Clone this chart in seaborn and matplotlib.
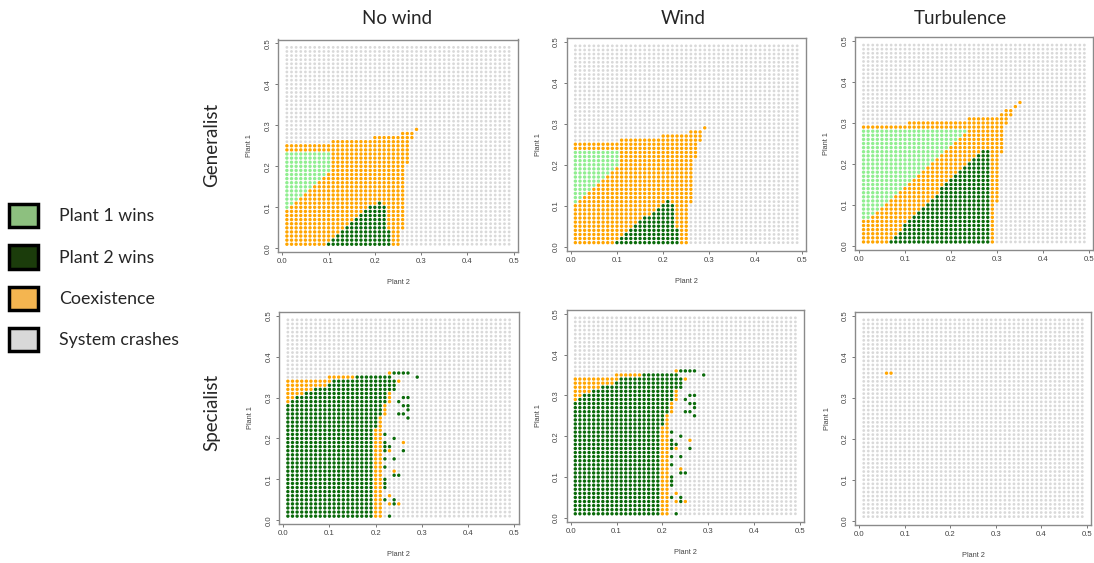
import pandas as pd
import matplotlib
matplotlib.use("Agg")
import matplotlib.pyplot as plt
from matplotlib.patches import Patch
import seaborn as sns

# Outcome grid: Plant 2 on x, Plant 1 on y, both 0.01 .. 0.49 in steps of 0.01.
# Every panel is a list of rows (Plant 1 = 0.01, 0.02, ...), each row a run-length
# string read off the picture starting at Plant 2 = 0.01:
# L = Plant 1 wins, D = Plant 2 wins, C = Coexistence, X = System crashes.
# Rows (and the tail of a row) that are not listed are all "System crashes".
N_STEPS = 49

generalist_nowind = [
    "C9 D14 C2", "C10 D13 C2", "C11 D12 C2", "C12 D11 C2",
    "C13 D9 C4", "C14 D8 C4", "C15 D7 C4", "C16 D6 C4", "C17 D5 C4",
    "L1 C17 D4 C4", "L2 C18 D1 C5",
    "L3 C23", "L4 C22", "L5 C21", "L6 C20", "L7 C19", "L8 C18", "L9 C17",
    "L10 C16", "L10 C16", "L10 C17", "L10 C17", "L10 C17",
    "C27", "C27", "X10 C17", "X19 C9", "X25 C3", "X28 C1",
]

generalist_wind = [
    "C9 D14 C2", "C10 D13 C2", "C11 D12 C2", "C12 D11 C2",
    "C13 D9 C3", "C14 D8 C3", "C15 D7 C3", "C17 D5 C3", "C18 D4 C3",
    "C19 D3 C3", "L1 C19 D1 C5",
    "L2 C24", "L3 C23", "L4 C22", "L5 C21", "L6 C20", "L7 C19", "L8 C18",
    "L9 C17", "L10 C16", "L10 C16", "L10 C17", "L10 C17",
    "C27", "C27", "X10 C18", "X19 C9", "X25 C3", "X28 C1",
]

generalist_turbulence = [
    "C6 D22 C1", "C7 D21 C1", "C8 D20 C1", "C9 D19 C1", "C9 D19 C1",
    "C10 D18 C1", "L2 C9 D17 C1", "L3 C9 D16 C1", "L4 C9 D15 C1",
    "L5 C9 D14 C1", "L6 C9 D13 C2", "L7 C9 D12 C2", "L8 C9 D11 C2",
    "L9 C8 D11 C2", "L10 C8 D10 C2", "L11 C8 D9 C2", "L12 C8 D8 C2",
    "L13 C8 D7 C2", "L14 C8 D6 C2", "L15 C8 D5 C2", "L16 C8 D4 C2",
    "L17 C8 D3 C2", "L18 C8 D2 C3", "L19 C12", "L20 C11", "L21 C10",
    "L22 C9", "L23 C8", "C31", "X10 C22", "X23 C9", "X30 C3", "X31 C2",
    "X33 C1", "X34 C1",
]

specialist_nowind = [
    "D19 C2 X1 D1", "D19 C2", "D19 C2", "D19 C2 X1 C1 D1 C1",
    "D19 C2 D1 X1 D1", "D19 C2 X1 C1", "D19 C2", "D19 C2 D1", "D19 C2 D1",
    "D19 C2 D1", "D19 C2 X2 D2", "D19 C2 X2 C1", "D19 C2 D1", "D19 C2",
    "D19 C2 D1 X1 D1", "D19 C2", "D19 C2 D1 C1 X2 D1", "D19 C2 D2",
    "D19 C2 D1 X3 C1", "D19 C2 X2 D1", "D19 C2 D1", "D19 C2",
    "D20 C1", "D20 C1", "D20 C1 X5 D1", "D21 C1 X2 D2", "D21 C1 X4 D1",
    "D21 C1 X3 D2", "C1 D21 C1 X1 D1", "C2 D20 C1 X2 D2", "C4 D18 C1",
    "C6 D18", "C9 D15", "C10 D14 C1", "X9 C6 D8 X5 D1", "X22 C1 D4",
]

# the windy specialist panel reads the same as the still-air one
specialist_wind = list(specialist_nowind)

specialist_turbulence = [""] * 35 + ["X5 C2"]

col_titles = ["No wind", "Wind", "Turbulence"]
row_titles = ["Generalist", "Specialist"]
panels = [generalist_nowind, generalist_wind, generalist_turbulence,
          specialist_nowind, specialist_wind, specialist_turbulence]

outcome_names = {"L": "Plant 1 wins", "D": "Plant 2 wins",
                 "C": "Coexistence", "X": "System crashes"}
dot_colors = {"Plant 1 wins": "#90EE90", "Plant 2 wins": "#0A6A0A",
              "Coexistence": "#FFA500", "System crashes": "#D9D9D9"}
dot_sizes = {"Plant 1 wins": 6, "Plant 2 wins": 6,
             "Coexistence": 6, "System crashes": 4}
legend_colors = {"Plant 1 wins": "#8DC07F", "Plant 2 wins": "#1B3C0B",
                 "Coexistence": "#F4B550", "System crashes": "#D8D8D8"}

# axes boxes in pixels: left, top, width, height
boxes = [(278, 39.5, 240, 212.6), (566.5, 38, 239.5, 212.5), (854.7, 37.2, 238.5, 212.6),
         (279, 312, 239.5, 212), (566.5, 310, 237.7, 211.6), (855, 312, 236, 212.5)]


def expand(rows):
    recs = []
    for r in range(1, N_STEPS + 1):
        codes = []
        if r <= len(rows):
            for tok in rows[r - 1].split():
                codes += [tok[0]] * int(tok[1:])
        codes += ["X"] * (N_STEPS - len(codes))
        for c, code in enumerate(codes, start=1):
            recs.append((c / 100, r / 100, outcome_names[code]))
    return pd.DataFrame(recs, columns=["Plant 2", "Plant 1", "outcome"])


sns.set_style("white")
plt.rcParams["font.family"] = ["Liberation Sans", "DejaVu Sans"]
heading_font = ["Lato", "DejaVu Sans"]

W, H = 1094, 563
fig = plt.figure(figsize=(W / 100, H / 100), dpi=100)

pad = 0.04 * (0.49 - 0.01)
ticks = [0.0, 0.1, 0.2, 0.3, 0.4, 0.5]
for i, (rows, (left, top, w, h)) in enumerate(zip(panels, boxes)):
    ax = fig.add_axes([left / W, 1 - (top + h) / H, w / W, h / H])
    df = expand(rows)
    sns.scatterplot(data=df, x="Plant 2", y="Plant 1", hue="outcome", size="outcome",
                    palette=dot_colors, sizes=dot_sizes, linewidth=0, legend=False, ax=ax)
    ax.set_xlim(0.01 - pad, 0.49 + pad)
    ax.set_ylim(0.01 - pad, 0.49 + pad)
    ax.set_xticks(ticks)
    ax.set_yticks(ticks)
    ax.set_xticklabels([f"{t:.1f}" for t in ticks])
    ax.set_yticklabels([f"{t:.1f}" for t in ticks], rotation=90, va="center")
    ax.tick_params(length=2.5, width=0.7, color="#777777", labelsize=5.6,
                   labelcolor="#444444", pad=2, bottom=True, left=True)
    for sp in ax.spines.values():
        sp.set_color("#8a8a8a")
        sp.set_linewidth(1.0)
    ax.set_xlabel("")
    ax.set_ylabel("")
    if i != 2:
        ax.text(0.5, -0.145, "Plant 2", transform=ax.transAxes,
                ha="center", va="center", fontsize=5.3, color="#444444")
    ax.text(-0.118, 0.5, "Plant 1", transform=ax.transAxes, rotation=90,
            ha="center", va="center", fontsize=5.3, color="#444444")

# column and row headings
for x, t in zip([397, 683, 960], col_titles):
    fig.text(x / W, 1 - 18 / H, t, ha="center", va="center", fontsize=13.5,
             family=heading_font)
for y, t in zip([145, 412], row_titles):
    fig.text(212 / W, 1 - y / H, t, ha="center", va="center", fontsize=13.5,
             rotation=90, family=heading_font)

handles = [Patch(facecolor=legend_colors[k], edgecolor="black", linewidth=2.5, label=k)
           for k in ["Plant 1 wins", "Plant 2 wins", "Coexistence", "System crashes"]]
fig.legend(handles=handles, loc="upper left", bbox_to_anchor=(9 / W, 1 - 204 / H),
           frameon=False, prop={"family": heading_font, "size": 12.8},
           handlelength=1.63, handleheight=1.63, labelspacing=1.02,
           handletextpad=1.2, borderpad=0, borderaxespad=0)

fig.savefig("out.png", dpi=100)
